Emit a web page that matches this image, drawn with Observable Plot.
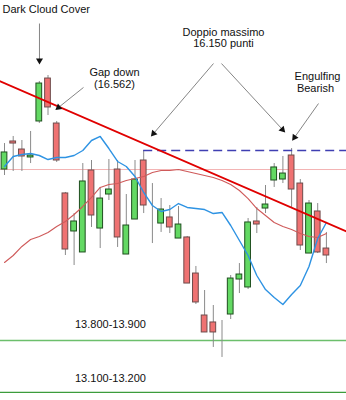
<!DOCTYPE html>
<html><head><meta charset="utf-8">
<script src="https://cdn.jsdelivr.net/npm/d3@7"></script>
<script src="https://cdn.jsdelivr.net/npm/@observablehq/plot@0.6"></script>
<style>html,body{margin:0;padding:0;background:#fff;} #chart svg{display:block;}</style>
</head><body><div id="chart"></div>
<script>
// Daily candles (index = trading session), prices in index points
const opens  = [15918,16260,16162,16065,16504,17028,16479,15626,15162,14906,15906,15198,15613,15918,14881,15308,16028,15308,15259,15333,15076,15089,14649,14137,14052,13942,14149,14576,14479,15284,15442,15784,15796,16089,15747,14893,15406,14954];
const highs  = [16235,16321,16272,16382,16992,17065,16504,15638,15381,15991,16028,15699,16040,16028,15613,16028,16150,15747,15564,15479,15467,15101,14735,14442,14259,14076,14625,14771,15320,15455,15723,15991,16077,16174,15796,15540,15503,15150];
const lows   = [15845,15894,15894,15991,16479,16577,16004,14869,14747,14906,15211,14954,15540,14967,14881,15308,15381,15015,15150,15137,15076,14527,14271,13930,13747,13625,14088,14405,14454,15137,15381,15699,15747,15455,14930,14893,14893,14771];
const closes = [16126,16235,16077,16089,16967,16675,16028,14942,15284,15772,15357,15564,15674,15089,15235,15796,15479,15308,15430,15211,15247,14527,14296,13930,13930,13942,14588,14637,15272,15247,15491,15943,15869,15674,14991,15503,14906,14869];
// Moving averages (one value per session)
const blueMA = [15955,16077,16101,16113,16089,16040,16065,16065,16089,16150,16272,16321,16174,16016,15955,15833,15638,15479,15406,15430,15503,15455,15442,15430,15381,15394,15235,15052,14869,14625,14454,14357,14271,14393,14503,14735,15076,15272];
const redMA  = [14784,14869,14979,15064,15101,15150,15223,15284,15369,15467,15577,15699,15735,15747,15784,15808,15833,15882,15906,15906,15918,15894,15869,15845,15821,15784,15735,15662,15564,15442,15357,15272,15223,15186,15137,15101,15089,15137];
// Trend line (two anchor points), levels
const trendIdx = [-1, 40];
const trendPx  = [17017, 15130];
const doubleTop = 16150;
const doubleTopStart = 16;
const resistance = 15918;
const supportLevels = [13832, 13198];
// Annotation texts
const labelText   = ["Dark Cloud Cover","Gap down","(16.562)","Doppio massimo","16.150 punti","Engulfing","Bearish","13.800-13.900","13.100-13.200"];
const labelIdx    = [-0.23, 12.64, 12.64, 25.17, 25.17, 35.98, 35.75, 12.18, 12.18];
const labelPrice  = [17870, 17102, 16955, 17590, 17455, 17053, 16906, 14027, 13368];
const labelAnchor = ["start","middle","middle","middle","middle","middle","middle","middle","middle"];
// Annotation arrows: from (idx1,price1) to (idx2,price2)
const arrowIdx1   = [4.02, 9.08, 24.02, 24.94, 36.09];
const arrowPrice1 = [17699, 16919, 17211, 17211, 16723];
const arrowIdx2   = [4.02, 6.21, 17.13, 31.95, 33.33];
const arrowPrice2 = [17248, 16675, 16357, 16406, 16309];

const W = 346, H = 400;
const xDomain = [-0.46, 39.31], yDomain = [13100, 17980];

const candles = opens.map((o, i) => ({i, o, h: highs[i], l: lows[i], c: closes[i]}));
const blue = blueMA.map((p, i) => ({i, p}));
const red = redMA.map((p, i) => ({i, p}));
const trend = trendIdx.map((i, k) => ({i, p: trendPx[k]}));
const labels = labelText.map((t, k) => ({t, i: labelIdx[k], p: labelPrice[k], a: labelAnchor[k]}));
const xs = Plot.scale({x: {domain: xDomain, range: [0, W]}});
const ys = Plot.scale({y: {domain: yDomain, range: [H, 0]}});
const arrows = arrowIdx1.map((x1, k) => {
  const x2 = arrowIdx2[k], y1 = arrowPrice1[k], y2 = arrowPrice2[k];
  const dx = xs.apply(x2) - xs.apply(x1), dy = ys.apply(y2) - ys.apply(y1);
  return {x1, y1, x2, y2, rot: Math.atan2(dx, -dy) * 180 / Math.PI};
});

const bodyFill = d => d.c > d.o ? "#63d963" : d.c < d.o ? "#ef7272" : "none";
const bodyStroke = d => d.c > d.o ? "#1f4f1f" : d.c < d.o ? "#6e4c4c" : "#4d6b4d";

const chart = Plot.plot({
  width: W, height: H,
  marginTop: 0, marginRight: 0, marginBottom: 0, marginLeft: 0,
  x: {domain: xDomain, axis: null},
  y: {domain: yDomain, axis: null},
  style: {fontFamily: "Arial, 'Liberation Sans', sans-serif", background: "#fff"},
  marks: [
    Plot.ruleY([resistance], {stroke: "#f3b3b3", strokeWidth: 1}),
    Plot.ruleY(supportLevels, {stroke: (d, k) => k === 0 ? "#6cbf6c" : "#3c9c3c", strokeWidth: 1.3}),
    Plot.ruleX(candles, {x: "i", y1: "l", y2: "h", stroke: "#8a8a8a", strokeWidth: 1}),
    Plot.rect(candles, {
      x1: d => d.i - 0.33, x2: d => d.i + 0.33,
      y1: "o", y2: "c",
      fill: bodyFill, stroke: bodyStroke, strokeWidth: d => d.c === d.o ? 2 : 1
    }),
    Plot.ruleY([doubleTop], {x1: doubleTopStart, x2: 40, stroke: "#3f3fb2", strokeWidth: 1.5, strokeDasharray: "9,5", clip: true}),
    Plot.line(red, {x: "i", y: "p", stroke: "#cf5a5a", strokeWidth: 1.1}),
    Plot.line(blue, {x: "i", y: "p", stroke: "#2e93e3", strokeWidth: 1.4}),
    Plot.line(trend, {x: "i", y: "p", stroke: "#e00000", strokeWidth: 1.7, clip: true}),
    Plot.link(arrows, {x1: "x1", y1: "y1", x2: "x2", y2: "y2", stroke: "#777", strokeWidth: 0.9}),
    Plot.dot(arrows, {x: "x2", y: "y2", symbol: "triangle", r: 2.6, fill: "#111", stroke: "none", rotate: "rot"}),
    Plot.text(labels.filter(d => d.a === "start"), {x: "i", y: "p", text: "t", textAnchor: "start", fontSize: 11, fill: "#111"}),
    Plot.text(labels.filter(d => d.a === "middle"), {x: "i", y: "p", text: "t", textAnchor: "middle", fontSize: 11, fill: "#111"})
  ]
});
document.getElementById("chart").appendChild(chart);
</script>
</body></html>
